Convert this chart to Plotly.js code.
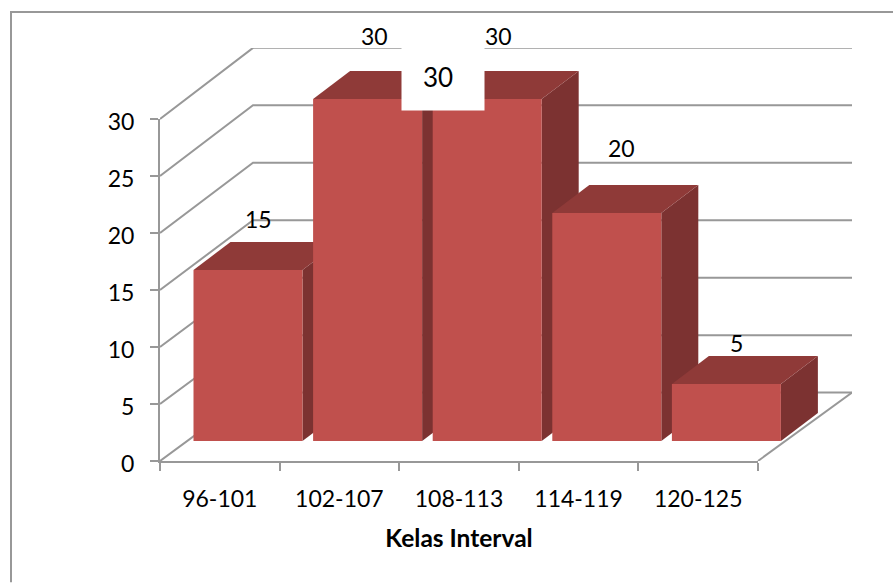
<!DOCTYPE html>
<html>
<head>
<meta charset="utf-8">
<script src="https://cdn.plot.ly/plotly-3.0.1.min.js"></script>
<style>html,body{margin:0;padding:0;background:#fff;overflow:hidden}</style>
</head>
<body>
<div id="chart" style="width:893px;height:583px"></div>
<script>
const categories = ["96-101", "102-107", "108-113", "114-119", "120-125"];
const values = [15, 30, 30, 20, 5];
const gridValues = [0, 5, 10, 15, 20, 25, 30];
const labelDx = [0.32, 0.29, 0.334, 0.36, 0.32];
const labelDy = [6.2, 7.3, 7.3, 7.4, 5.3];
const extraLabel = "30";

const FONT = "Lato, 'Open Sans', sans-serif";
const GRID = "#989898";
const FRONT = "#C0504D", TOP = "#8F3A38", SIDE = "#7C3231";

// plot geometry (px)
const L = 160, R = 852, B = 461.5, T = 48, X0 = 758, Y30 = 119;
const unitX = (X0 - L) / categories.length, unitY = (B - Y30) / 30;

// depth of the 3D box / bars in axis units
const wallDx = 93 / unitX, wallDy = v => 6 + v * 0.0077;
const barLift = 20 / unitY, barWidth = 109 / unitX, barShift = 28.2 / unitX;
const barDx = 37 / unitX, barDy = 28 / unitY;
const xMax = -0.5 + (R - L) / unitX, yMax = (B - T) / unitY;

const traces = [];
// walls and gridlines
gridValues.forEach(v => {
  traces.push({type: "scatter", mode: "lines", xaxis: "x", yaxis: "y", hoverinfo: "skip", cliponaxis: false,
    x: [-0.5, -0.5 + wallDx, xMax], y: [v, v + wallDy(v), v + wallDy(v)],
    line: {color: GRID, width: 2}});
});
traces.push({type: "scatter", mode: "lines", xaxis: "x", yaxis: "y", hoverinfo: "skip", cliponaxis: false,
  x: [xMax, categories.length - 0.5], y: [wallDy(0), 0], line: {color: GRID, width: 2}});

// top and side faces of each bar
values.forEach((v, i) => {
  const x0 = i + barShift - barWidth / 2, x1 = x0 + barWidth, h = v + barLift;
  traces.push({type: "scatter", mode: "lines", fill: "toself", fillcolor: SIDE, hoverinfo: "skip",
    xaxis: "x", yaxis: "y", line: {width: 0, color: SIDE},
    x: [x1, x1, x1 + barDx, x1 + barDx, x1], y: [barLift, h, h + barDy, barLift + barDy, barLift]});
  traces.push({type: "scatter", mode: "lines", fill: "toself", fillcolor: TOP, hoverinfo: "skip",
    xaxis: "x", yaxis: "y", line: {width: 0, color: TOP},
    x: [x0, x1, x1 + barDx, x0 + barDx, x0], y: [h, h, h + barDy, h + barDy, h]});
});

// front axes carry the ticks and labels
traces.push({type: "scatter", mode: "none", xaxis: "x2", yaxis: "y2", x: categories, y: values, hoverinfo: "skip"});

// front faces, above the side and top faces
traces.push({type: "bar", xaxis: "x3", yaxis: "y3", x: categories.map((c, i) => i), y: values,
  base: values.map(() => barLift), width: barWidth, offset: barShift - barWidth / 2,
  marker: {color: FRONT, line: {width: 0}}, hoverinfo: "skip"});

const annotations = values.map((v, i) => ({
  xref: "x", yref: "y", x: i + labelDx[i], y: v, yshift: labelDy[i] * unitY, text: String(v), showarrow: false,
  font: {family: FONT, size: 23, color: "#000"}
}));
// the white text box that sits over the chart, and its number
annotations.push({
  xref: "x", yref: "y", x: (443 - L) / unitX - 0.5, y: (B - 78) / unitY, text: " ", showarrow: false,
  width: 80, height: 62, bgcolor: "#fff", font: {family: FONT, size: 26, color: "#000"}
});
annotations.push({
  xref: "x", yref: "y", x: (437.5 - L) / unitX - 0.5, y: (B - 77) / unitY, text: extraLabel, showarrow: false,
  font: {family: FONT, size: 26, color: "#000"}
});

const W = R - L, H = B - T;
const layout = {
  width: 893, height: 583, showlegend: false, paper_bgcolor: "#fff", plot_bgcolor: "rgba(0,0,0,0)",
  margin: {l: L, r: 893 - R, t: T, b: 583 - B, pad: 0},
  font: {family: FONT, size: 23, color: "#000"},
  xaxis: {visible: false, range: [-0.5, xMax], domain: [0, 1], anchor: "y", fixedrange: true},
  yaxis: {visible: false, range: [0, yMax], domain: [0, 1], anchor: "x", fixedrange: true},
  xaxis3: {visible: false, range: [-0.5, xMax], overlaying: "x", anchor: "y3", fixedrange: true},
  yaxis3: {visible: false, range: [0, yMax], overlaying: "y", anchor: "x3", fixedrange: true},
  xaxis2: {type: "category", categoryorder: "array", categoryarray: categories, range: [-0.5, categories.length - 0.5],
    domain: [0, (X0 - L) / W], anchor: "y2", showgrid: false, zeroline: false,
    showline: true, linecolor: GRID, linewidth: 2, ticks: "outside", ticklen: 8, tickwidth: 1.6, tickcolor: GRID,
    tickson: "boundaries", ticklabelstandoff: 16, tickfont: {family: FONT, size: 23, color: "#000"},
    title: {text: "<b>Kelas Interval</b>", font: {family: FONT, size: 24.5, color: "#000"}, standoff: 19},
    automargin: false, fixedrange: true},
  yaxis2: {range: [0, 30], domain: [0, (B - Y30) / H], anchor: "x2", showgrid: false, zeroline: false,
    tickmode: "array", tickvals: gridValues, ticktext: gridValues.map(String),
    showline: true, linecolor: GRID, linewidth: 2, ticks: "outside", ticklen: 8, tickwidth: 1.6, tickcolor: GRID,
    ticklabelstandoff: 11, ticklabelshift: 3, tickfont: {family: FONT, size: 23, color: "#000"}, automargin: false, fixedrange: true},
  annotations: annotations,
  shapes: [{type: "path", xref: "paper", yref: "paper", layer: "below",
    path: `M ${(11 - L) / W} ${(B - 583) / H} L ${(11 - L) / W} ${(B - 12) / H} L ${(893 - L) / W} ${(B - 12) / H}`,
    line: {color: GRID, width: 2}}]
};
Plotly.newPlot("chart", traces, layout, {displayModeBar: false, responsive: false});
</script>
</body>
</html>
